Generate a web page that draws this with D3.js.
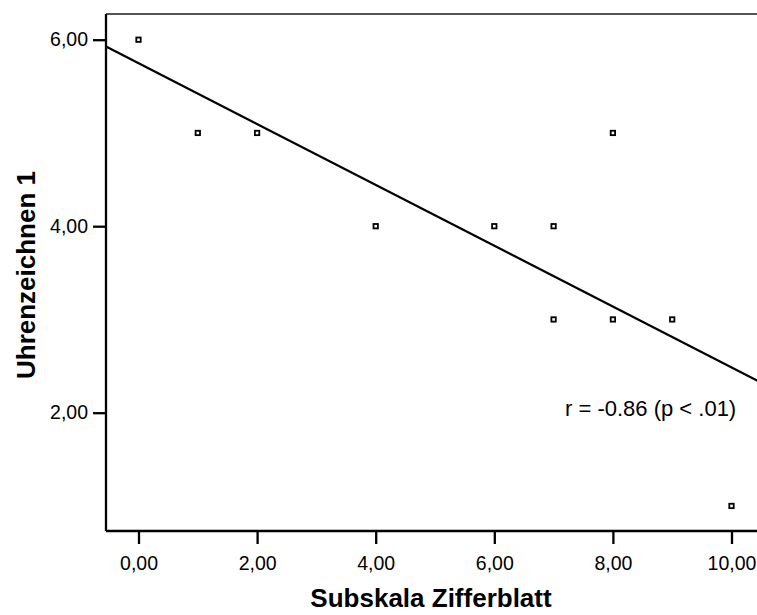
<!DOCTYPE html>
<html>
<head>
<meta charset="utf-8">
<script src="https://cdn.jsdelivr.net/npm/d3@7"></script>
<style>
  body { margin: 0; background: #fff; }
  svg { display: block; font-family: "Liberation Sans", Arial, Helvetica, sans-serif; }
</style>
</head>
<body>
<div id="chart"></div>
<script>
// data
var zifferblatt = [0, 1, 2, 4, 6, 7, 7, 8, 8, 9, 10];
var uhrenzeichnen = [6, 5, 5, 4, 4, 4, 3, 5, 3, 3, 1];
var xTicks = [0, 2, 4, 6, 8, 10];
var yTicks = [2, 4, 6];
var xTitle = 'Subskala Zifferblatt';
var yTitle = 'Uhrenzeichnen 1';
var note = 'r = -0.86 (p < .01)';

var w = 757;
var h = 615;
var pl = 106, pt = 14, pb = 531, pr = 780;

var svg = d3.select('#chart').append('svg')
  .attr('width', w)
  .attr('height', h);

var x = d3.scaleLinear().domain([0, 10]).range([138.5, 731.5]);
var y = d3.scaleLinear().domain([2, 6]).range([412.7, 39.7]);

var fmt = function(v) { return d3.format('.2f')(v).replace('.', ','); };

svg.append('defs').append('clipPath')
  .attr('id', 'plot')
  .append('rect')
  .attr('x', pl)
  .attr('y', pt)
  .attr('width', pr - pl)
  .attr('height', pb - pt);

// least squares line from the points
var mx = d3.mean(zifferblatt), my = d3.mean(uhrenzeichnen);
var sxy = d3.sum(zifferblatt, function(v, i) { return (v - mx) * (uhrenzeichnen[i] - my); });
var sxx = d3.sum(zifferblatt, function(v) { return (v - mx) * (v - mx); });
var slope = sxy / sxx;
var icpt = my - slope * mx;
var x0 = x.invert(pl), x1 = x.invert(pr);

svg.append('line')
  .attr('clip-path', 'url(#plot)')
  .attr('x1', x(x0)).attr('y1', y(icpt + slope * x0))
  .attr('x2', x(x1)).attr('y2', y(icpt + slope * x1))
  .attr('stroke', '#000')
  .attr('stroke-width', 2.3);

// frame
svg.append('line')
  .attr('x1', pl).attr('x2', pr)
  .attr('y1', pt).attr('y2', pt)
  .attr('stroke', '#555')
  .attr('stroke-width', 2);

var xAxis = svg.append('g')
  .attr('transform', 'translate(0,' + pb + ')')
  .call(d3.axisBottom(x).tickValues(xTicks).tickFormat(fmt).tickSize(13).tickPadding(12));
xAxis.select('.domain').attr('d', 'M' + pl + ',0H' + pr).attr('stroke-width', 2.3);

var yAxis = svg.append('g')
  .attr('transform', 'translate(' + pl + ',0)')
  .call(d3.axisLeft(y).tickValues(yTicks).tickFormat(fmt).tickSize(13).tickPadding(5));
yAxis.select('.domain').attr('d', 'M0,' + pt + 'V' + pb).attr('stroke-width', 2.3);

svg.selectAll('.tick line').attr('stroke-width', 2.3);
svg.selectAll('.tick text')
  .attr('font-family', '"Liberation Sans", Arial, sans-serif')
  .attr('font-size', 19.5)
  .attr('fill', '#000');

// points
svg.append('g').selectAll('rect')
  .data(zifferblatt)
  .join('rect')
  .attr('x', function(d) { return x(d) - 2.2; })
  .attr('y', function(d, i) { return y(uhrenzeichnen[i]) - 2.2; })
  .attr('width', 4.4)
  .attr('height', 4.4)
  .attr('fill', '#fff')
  .attr('stroke', '#000')
  .attr('stroke-width', 1.8);

// titles
svg.append('text')
  .attr('x', 431)
  .attr('y', 607)
  .attr('text-anchor', 'middle')
  .attr('font-size', 26)
  .attr('font-weight', 'bold')
  .text(xTitle);

svg.append('text')
  .attr('transform', 'translate(35,275) rotate(-90)')
  .attr('text-anchor', 'middle')
  .attr('font-size', 26)
  .attr('font-weight', 'bold')
  .text(yTitle);

svg.append('text')
  .attr('x', 565)
  .attr('y', 416)
  .attr('font-size', 22)
  .text(note);
</script>
</body>
</html>
